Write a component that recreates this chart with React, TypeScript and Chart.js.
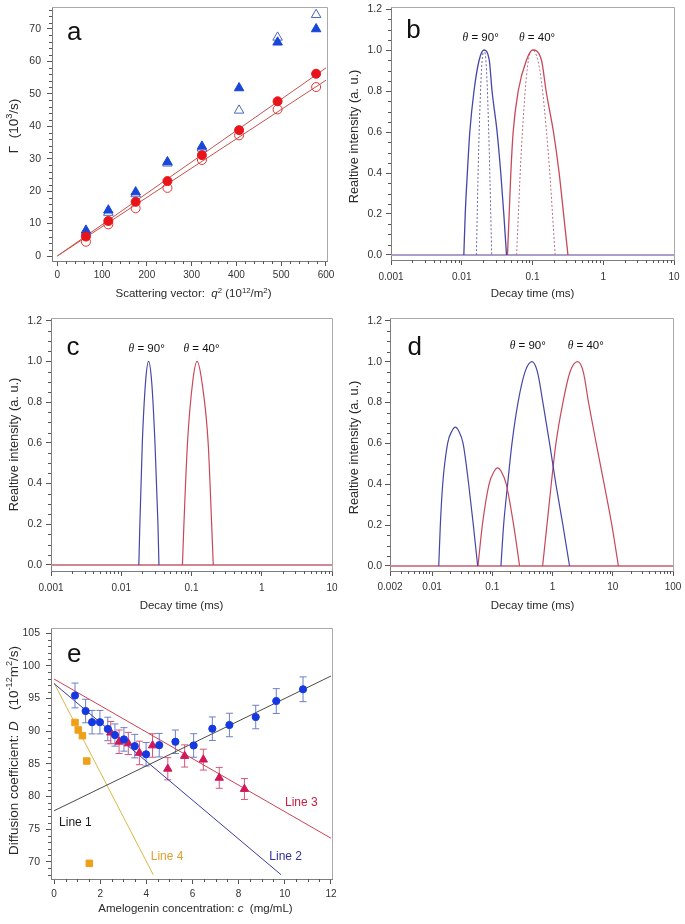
import React, { useEffect, useRef } from 'react';
import { Chart, registerables } from 'chart.js';
Chart.register(...registerables);

// ---------------- Panel a ----------------
const aQ2 = [64, 114, 175, 246, 323, 406, 492, 578];
const aFilledCircle = [6.0, 10.8, 16.7, 23.1, 31.1, 38.8, 47.7, 56.2];
const aOpenCircle = [4.4, 9.75, 14.7, 21.0, 29.6, 37.2, 45.2, 52.1];
const aFilledTriangle = [7.9, 14.1, 19.7, 29.0, 33.8, 51.8, 65.9, 70.0];
const aOpenTriangle = [7.2, 13.4, 19.1, 28.6, 33.2, 44.9, 67.4, 74.4];
const aFitX = [0, 600];
const aFitUpper = [0, 58.0];
const aFitLower = [0, 54.2];
const aXTicks = [0, 100, 200, 300, 400, 500, 600];
const aYTicks = [0, 10, 20, 30, 40, 50, 60, 70];

// ---------------- Panel b ----------------
const bBlueSolidX = [0.0107, 0.0112, 0.012, 0.013, 0.0149, 0.0176, 0.0206, 0.0245, 0.0268, 0.0316, 0.0356, 0.0393, 0.0429];
const bBlueSolidY = [0, 0.2, 0.4, 0.6, 0.8, 0.95, 1.0, 0.95, 0.8, 0.6, 0.4, 0.2, 0];
const bBlueDotX = [0.0161, 0.0173, 0.019, 0.0206, 0.0224, 0.0245, 0.0265];
const bBlueDotY = [0, 0.5, 0.9, 1.0, 0.9, 0.5, 0];
const bRedSolidX = [0.0443, 0.0468, 0.0494, 0.0533, 0.0628, 0.082, 0.1007, 0.134, 0.1556, 0.198, 0.238, 0.275, 0.317];
const bRedSolidY = [0, 0.2, 0.4, 0.6, 0.8, 0.95, 1.0, 0.95, 0.8, 0.6, 0.4, 0.2, 0];
const bRedDotX = [0.0596, 0.0693, 0.0838, 0.099, 0.127, 0.167, 0.209];
const bRedDotY = [0, 0.5, 0.9, 1.0, 0.9, 0.5, 0];
const bBaseX = [0.001, 10];
const bBaseY = [0, 0];
const bXTicks = [0.001, 0.01, 0.1, 1, 10];
const intensityTicks = [0, 0.2, 0.4, 0.6, 0.8, 1.0, 1.2];

// ---------------- Panel c ----------------
const cBlueX = [0.0178, 0.0184, 0.01995, 0.0222, 0.0245, 0.0271, 0.0302, 0.0333, 0.0344];
const cBlueY = [0, 0.2, 0.6, 0.9, 1.0, 0.9, 0.6, 0.2, 0];
const cRedX = [0.0743, 0.078, 0.0877, 0.104, 0.12, 0.1406, 0.1726, 0.1936, 0.204];
const cRedY = [0, 0.2, 0.6, 0.9, 1.0, 0.9, 0.6, 0.2, 0];
const cBaseX = [0.001, 10];
const cBaseY = [0, 0];
const cXTicks = [0.001, 0.01, 0.1, 1, 10];

// ---------------- Panel d ----------------
const dBlue1X = [0.0129, 0.0137, 0.015, 0.0181, 0.0213, 0.0243, 0.0278, 0.0327, 0.0405, 0.0484, 0.0571];
const dBlue1Y = [0, 0.2, 0.4, 0.6, 0.66, 0.68, 0.66, 0.6, 0.4, 0.2, 0];
const dRed1X = [0.0578, 0.0683, 0.0881, 0.1057, 0.1225, 0.1422, 0.1706, 0.226, 0.284];
const dRed1Y = [0, 0.2, 0.4, 0.46, 0.48, 0.46, 0.4, 0.2, 0];
const dBlue2X = [0.139, 0.154, 0.1795, 0.212, 0.267, 0.349, 0.455, 0.561, 0.692, 0.893, 1.138, 1.486, 1.916];
const dBlue2Y = [0, 0.2, 0.4, 0.6, 0.8, 0.95, 1.0, 0.95, 0.8, 0.6, 0.4, 0.2, 0];
const dRed2X = [0.684, 0.807, 0.951, 1.138, 1.486, 1.95, 2.6, 3.24, 3.96, 5.31, 7.2, 9.66, 12.4];
const dRed2Y = [0, 0.2, 0.4, 0.6, 0.8, 0.95, 1.0, 0.95, 0.8, 0.6, 0.4, 0.2, 0];
const dBaseX = [0.002, 100];
const dBaseY = [0, 0];
const dXTicks = [0.002, 0.01, 0.1, 1, 10, 100];

// ---------------- Panel e ----------------
const eBlueConc = [0.91, 1.37, 1.65, 1.99, 2.33, 2.64, 3.03, 3.5, 3.99, 4.56, 5.26, 6.05, 6.86, 7.6, 8.74, 9.63, 10.79];
const eBlueD = [95.47, 93.09, 91.38, 91.38, 90.34, 89.41, 88.74, 87.71, 86.46, 87.86, 88.38, 87.81, 90.38, 90.95, 92.17, 94.62, 96.42];
const eBlueErr = [1.9, 1.8, 1.8, 1.8, 1.8, 1.7, 1.8, 1.8, 1.8, 1.8, 1.8, 1.8, 1.8, 1.8, 1.8, 1.9, 1.9];
const eRedConc = [2.46, 2.82, 3.22, 3.7, 4.27, 4.93, 5.66, 6.47, 7.16, 8.25];
const eRedD = [89.78, 88.38, 88.12, 86.67, 87.81, 84.24, 86.2, 85.64, 82.85, 81.14];
const eRedErr = [1.7, 1.8, 1.7, 1.8, 1.8, 1.7, 1.7, 1.6, 1.6, 1.6];
const eOrangeConc = [0.91, 1.05, 1.23, 1.42, 1.53];
const eOrangeD = [91.33, 90.19, 89.31, 85.43, 69.75];
const eLine1X = [0, 12];
const eLine1Y = [77.8, 98.45];
const eLine2X = [0, 9.84];
const eLine2Y = [97.3, 68.0];
const eLine3X = [0, 12];
const eLine3Y = [98.0, 73.6];
const eLine4X = [0, 4.3];
const eLine4Y = [97.4, 68.0];
const eXTicks = [0, 2, 4, 6, 8, 10, 12];
const eYTicks = [70, 75, 80, 85, 90, 95, 100, 105];

// ---------------- helpers ----------------
const SANS = '"Liberation Sans", Arial, Helvetica, sans-serif';
const SERIF = '"Liberation Serif", "Times New Roman", serif';

const pts = (xs: number[], ys: number[]) => xs.map((x, i) => ({ x, y: ys[i] }));

function steps(a: number, b: number, s: number): number[] {
  const out: number[] = [];
  for (let k = 0; a + k * s <= b + 1e-9; k++) out.push(+(a + k * s).toFixed(6));
  return out;
}
function logMinor(lo: number, hi: number): number[] {
  const out: number[] = [];
  for (let e = -4; e <= 3; e++) {
    for (let m = 2; m <= 9; m++) {
      const v = m * Math.pow(10, e);
      if (v > lo * 1.0001 && v < hi * 0.9999) out.push(v);
    }
  }
  return out;
}

type Seg = { t: string; i?: boolean; sup?: boolean; serif?: boolean };
type Label =
  | { at: 'data'; x: number; y: number; segs: Seg[]; size: number; color: string; align: 'left' | 'center' }
  | { at: 'xtitle'; segs: Seg[]; size: number; dx: number; dy: number; color: string }
  | { at: 'ytitle'; segs: Seg[]; size: number; x: number; dy: number; color: string };

function drawRich(ctx: CanvasRenderingContext2D, segs: Seg[], x: number, y: number, size: number, color: string, align: 'left' | 'center') {
  const fontFor = (s: Seg) => `${s.i ? 'italic ' : ''}${s.sup ? size * 0.68 : size}px ${s.serif ? SERIF : SANS}`;
  let total = 0;
  const widths = segs.map((s) => {
    ctx.font = fontFor(s);
    const w = ctx.measureText(s.t).width;
    total += w;
    return w;
  });
  let cx = align === 'center' ? x - total / 2 : x;
  ctx.fillStyle = color;
  ctx.textBaseline = 'alphabetic';
  ctx.textAlign = 'left';
  segs.forEach((s, k) => {
    ctx.font = fontFor(s);
    ctx.fillText(s.t, cx, s.sup ? y - size * 0.4 : y);
    cx += widths[k];
  });
}

interface ErrSpec { xs: number[]; ys: number[]; err: number[]; color: string }
interface PanelSpec {
  left: number; top: number; width: number; height: number;
  yAxisW: number; xAxisH: number; padTop: number; padRight: number;
  xType: 'linear' | 'logarithmic';
  xMin: number; xMax: number; yMin: number; yMax: number;
  xMajor: number[]; xMinor: number[]; yMajor: number[]; yMinor: number[];
  xFmt: (v: number) => string; yFmt: (v: number) => string;
  xTickPad: number; yTickPad: number;
  datasets: any[];
  labels: Label[];
  errors?: ErrSpec[];
}

const TICK_COLOR = '#555';
const AXIS_COLOR = '#7d7d7d';
const FRAME_COLOR = '#a9a9a9';
const TEXT_COLOR = '#2a2a2a';

function buildChart(canvas: HTMLCanvasElement, s: PanelSpec) {
  const decor = {
    id: 'decor',
    beforeDatasetsDraw(chart: any) {
      const ctx = chart.ctx as CanvasRenderingContext2D;
      const xs = chart.scales.x, ys = chart.scales.y;
      (s.errors || []).forEach((e) => {
        ctx.save();
        ctx.strokeStyle = e.color;
        ctx.lineWidth = 1;
        e.xs.forEach((xv, k) => {
          const px = xs.getPixelForValue(xv);
          const t = ys.getPixelForValue(e.ys[k] + e.err[k]);
          const b = ys.getPixelForValue(e.ys[k] - e.err[k]);
          ctx.beginPath();
          ctx.moveTo(px, t); ctx.lineTo(px, b);
          ctx.moveTo(px - 3.5, t); ctx.lineTo(px + 3.5, t);
          ctx.moveTo(px - 3.5, b); ctx.lineTo(px + 3.5, b);
          ctx.stroke();
        });
        ctx.restore();
      });
    },
    afterDraw(chart: any) {
      const ctx = chart.ctx as CanvasRenderingContext2D;
      const a = chart.chartArea;
      const xs = chart.scales.x, ys = chart.scales.y;
      ctx.save();
      ctx.strokeStyle = FRAME_COLOR;
      ctx.lineWidth = 1;
      ctx.beginPath();
      ctx.moveTo(a.left, a.top + 0.5); ctx.lineTo(a.right + 0.5, a.top + 0.5); ctx.lineTo(a.right + 0.5, a.bottom);
      ctx.stroke();
      ctx.strokeStyle = TICK_COLOR;
      ctx.beginPath();
      s.xMinor.forEach((v) => {
        const px = Math.round(xs.getPixelForValue(v)) + 0.5;
        ctx.moveTo(px, a.bottom); ctx.lineTo(px, a.bottom + 3);
      });
      s.yMinor.forEach((v) => {
        const py = Math.round(ys.getPixelForValue(v)) + 0.5;
        ctx.moveTo(a.left - 3, py); ctx.lineTo(a.left, py);
      });
      ctx.stroke();
      s.labels.forEach((l) => {
        if (l.at === 'data') {
          drawRich(ctx, l.segs, xs.getPixelForValue(l.x), ys.getPixelForValue(l.y), l.size, l.color, l.align);
        } else if (l.at === 'xtitle') {
          drawRich(ctx, l.segs, (a.left + a.right) / 2 + l.dx, a.bottom + l.dy + l.size * 0.36, l.size, l.color, 'center');
        } else {
          ctx.save();
          ctx.translate(l.x, (a.top + a.bottom) / 2 + l.dy);
          ctx.rotate(-Math.PI / 2);
          drawRich(ctx, l.segs, 0, l.size * 0.36, l.size, l.color, 'center');
          ctx.restore();
        }
      });
      ctx.restore();
    },
  };

  return new Chart(canvas, {
    type: 'line',
    data: { datasets: s.datasets },
    options: {
      responsive: false,
      animation: false,
      devicePixelRatio: 1,
      events: [],
      layout: { padding: { left: 0, top: s.padTop, right: s.padRight, bottom: 0 } },
      plugins: { legend: { display: false }, tooltip: { enabled: false } },
      scales: {
        x: {
          type: s.xType,
          position: 'bottom',
          min: s.xMin,
          max: s.xMax,
          afterBuildTicks: (sc: any) => { sc.ticks = s.xMajor.map((v) => ({ value: v })); },
          afterFit: (sc: any) => { sc.height = s.xAxisH; sc.paddingLeft = 0; sc.paddingRight = 0; },
          ticks: {
            autoSkip: false, maxRotation: 0, minRotation: 0, padding: s.xTickPad, color: '#333',
            font: { family: SANS, size: 10 },
            callback: (v: any) => s.xFmt(Number(v)),
          },
          grid: { display: true, drawOnChartArea: false, drawTicks: true, tickLength: 5, color: TICK_COLOR },
          border: { display: true, color: AXIS_COLOR },
          title: { display: false },
        },
        y: {
          type: 'linear',
          position: 'left',
          min: s.yMin,
          max: s.yMax,
          afterBuildTicks: (sc: any) => { sc.ticks = s.yMajor.map((v) => ({ value: v })); },
          afterFit: (sc: any) => { sc.width = s.yAxisW; sc.paddingTop = 0; sc.paddingBottom = 0; },
          ticks: {
            autoSkip: false, padding: s.yTickPad, color: '#333',
            font: { family: SANS, size: 10.5 },
            callback: (v: any) => s.yFmt(Number(v)),
          },
          grid: { display: true, drawOnChartArea: false, drawTicks: true, tickLength: 5, color: TICK_COLOR },
          border: { display: true, color: AXIS_COLOR },
          title: { display: false },
        },
      },
    } as any,
    plugins: [decor],
  });
}

const lineDs = (data: any[], color: string, width = 1, dash: number[] = []) => ({
  data, borderColor: color, borderWidth: width, borderDash: dash, pointRadius: 0,
  fill: false, tension: 0, showLine: true,
});
const curveDs = (data: any[], color: string, width = 1.2, dash: number[] = []) => ({
  data, borderColor: color, borderWidth: width, borderDash: dash, pointRadius: 0,
  fill: false, cubicInterpolationMode: 'monotone', showLine: true,
});
const markDs = (data: any[], style: string, radius: number, fill: string, stroke: string, bw = 1) => ({
  data, showLine: false, pointStyle: style, pointRadius: radius,
  pointBackgroundColor: fill, pointBorderColor: stroke, pointBorderWidth: bw,
  borderColor: stroke, backgroundColor: fill,
});

const BLUE = '#4646a8';
const RED = '#c8485a';
const fmt1 = (v: number) => v.toFixed(1);
const fmtPlain = (v: number) => String(v);
const intensityTitle: Seg[] = [{ t: 'Realtive intensity (a. u.)' }];
const decayTitle: Seg[] = [{ t: 'Decay time (ms)' }];
const theta = (deg: string): Seg[] => [{ t: 'θ', i: true, serif: true }, { t: ' = ' + deg + '°' }];
const minorIntensity = steps(0.05, 1.15, 0.05).filter((v) => Math.abs(v * 5 - Math.round(v * 5)) > 1e-6);

const specA: PanelSpec = {
  left: 0, top: 0, width: 340, height: 300,
  yAxisW: 52, xAxisH: 39, padTop: 7, padRight: 13,
  xType: 'linear', xMin: -11.8, xMax: 602.3, yMin: -1.54, yMax: 76.78,
  xMajor: aXTicks, xMinor: steps(20, 580, 20).filter((v) => v % 100 !== 0),
  yMajor: aYTicks, yMinor: steps(2, 76, 2).filter((v) => v % 10 !== 0),
  xFmt: fmtPlain, yFmt: fmtPlain, xTickPad: 3, yTickPad: 6,
  datasets: [
    markDs(pts(aQ2, aFilledCircle), 'circle', 4.5, '#e8141a', '#e8141a'),
    markDs(pts(aQ2, aOpenCircle), 'circle', 4.5, 'rgba(255,255,255,0)', '#e0352e'),
    markDs(pts(aQ2, aFilledTriangle), 'triangle', 5.5, '#1846d8', '#1846d8'),
    markDs(pts(aQ2, aOpenTriangle), 'triangle', 5.5, 'rgba(255,255,255,0)', '#4a64c0'),
    lineDs(pts(aFitX, aFitUpper), '#c8504a'),
    lineDs(pts(aFitX, aFitLower), '#c8504a'),
  ],
  labels: [
    { at: 'data', x: 21.7, y: 66.6, segs: [{ t: 'a' }], size: 26, color: '#111', align: 'left' },
    { at: 'xtitle', segs: [{ t: 'Scattering vector:  ' }, { t: 'q', i: true }, { t: '2', sup: true }, { t: ' (10' }, { t: '12', sup: true }, { t: '/m' }, { t: '2', sup: true }, { t: ')' }], size: 11.5, dx: 4, dy: 32, color: TEXT_COLOR },
    { at: 'ytitle', segs: [{ t: 'Γ' }, { t: '  (10' }, { t: '3', sup: true }, { t: '/s)' }], size: 13.5, x: 13, dy: -8, color: TEXT_COLOR },
  ],
};

const specB: PanelSpec = {
  left: 340, top: 0, width: 345, height: 300,
  yAxisW: 51, xAxisH: 40, padTop: 7, padRight: 11,
  xType: 'logarithmic', xMin: 0.001, xMax: 10, yMin: -0.0244, yMax: 1.2098,
  xMajor: bXTicks, xMinor: logMinor(0.001, 10),
  yMajor: intensityTicks, yMinor: minorIntensity,
  xFmt: fmtPlain, yFmt: fmt1, xTickPad: 6, yTickPad: 4,
  datasets: [
    curveDs(pts(bBlueSolidX, bBlueSolidY), BLUE, 1.3),
    curveDs(pts(bRedSolidX, bRedSolidY), RED, 1.3),
    curveDs(pts(bBlueDotX, bBlueDotY), '#6a6aa8', 1, [2, 2]),
    curveDs(pts(bRedDotX, bRedDotY), '#b87080', 1, [2, 2]),
    lineDs(pts(bBaseX, bBaseY), '#9a9ad4', 1.6),
    lineDs(pts(bBaseX, bBaseY), '#e08a8a', 1.6),
  ],
  labels: [
    { at: 'data', x: 0.00164, y: 1.059, segs: [{ t: 'b' }], size: 26, color: '#111', align: 'left' },
    { at: 'data', x: 0.0185, y: 1.045, segs: theta('90'), size: 11.5, color: '#111', align: 'center' },
    { at: 'data', x: 0.116, y: 1.045, segs: theta('40'), size: 11.5, color: '#111', align: 'center' },
    { at: 'xtitle', segs: decayTitle, size: 11.5, dx: 0, dy: 33, color: TEXT_COLOR },
    { at: 'ytitle', segs: intensityTitle, size: 12.8, x: 13, dy: 3, color: TEXT_COLOR },
  ],
};

const specC: PanelSpec = {
  left: 0, top: 300, width: 340, height: 315,
  yAxisW: 51, xAxisH: 44, padTop: 18, padRight: 8,
  xType: 'logarithmic', xMin: 0.001, xMax: 10, yMin: -0.0295, yMax: 1.213,
  xMajor: cXTicks, xMinor: logMinor(0.001, 10),
  yMajor: intensityTicks, yMinor: minorIntensity,
  xFmt: fmtPlain, yFmt: fmt1, xTickPad: 6, yTickPad: 4,
  datasets: [
    curveDs(pts(cBlueX, cBlueY), BLUE, 1.2),
    curveDs(pts(cRedX, cRedY), RED, 1.2),
    lineDs(pts(cBaseX, cBaseY), '#e07a7a', 1.6),
    lineDs(pts(cBaseX, cBaseY), '#8a8ad0', 1.6),
  ],
  labels: [
    { at: 'data', x: 0.00166, y: 1.031, segs: [{ t: 'c' }], size: 26, color: '#111', align: 'left' },
    { at: 'data', x: 0.023, y: 1.045, segs: theta('90'), size: 11.5, color: '#111', align: 'center' },
    { at: 'data', x: 0.139, y: 1.045, segs: theta('40'), size: 11.5, color: '#111', align: 'center' },
    { at: 'xtitle', segs: decayTitle, size: 11.5, dx: -10, dy: 34, color: TEXT_COLOR },
    { at: 'ytitle', segs: intensityTitle, size: 12.8, x: 13, dy: 0, color: TEXT_COLOR },
  ],
};

const specD: PanelSpec = {
  left: 340, top: 300, width: 345, height: 315,
  yAxisW: 50, xAxisH: 44, padTop: 18, padRight: 12,
  xType: 'logarithmic', xMin: 0.002, xMax: 100, yMin: -0.0245, yMax: 1.214,
  xMajor: dXTicks, xMinor: logMinor(0.002, 100),
  yMajor: intensityTicks, yMinor: minorIntensity,
  xFmt: fmtPlain, yFmt: fmt1, xTickPad: 5, yTickPad: 3,
  datasets: [
    curveDs(pts(dBlue1X, dBlue1Y), BLUE, 1.2),
    curveDs(pts(dRed1X, dRed1Y), RED, 1.2),
    curveDs(pts(dBlue2X, dBlue2Y), BLUE, 1.2),
    curveDs(pts(dRed2X, dRed2Y), RED, 1.2),
    lineDs(pts(dBaseX, dBaseY), '#e07a7a', 1.6),
    lineDs(pts(dBaseX, dBaseY), '#8a8ad0', 1.6),
  ],
  labels: [
    { at: 'data', x: 0.00389, y: 1.033, segs: [{ t: 'd' }], size: 26, color: '#111', align: 'left' },
    { at: 'data', x: 0.388, y: 1.061, segs: theta('90'), size: 11.5, color: '#111', align: 'center' },
    { at: 'data', x: 3.56, y: 1.061, segs: theta('40'), size: 11.5, color: '#111', align: 'center' },
    { at: 'xtitle', segs: decayTitle, size: 11.5, dx: 1, dy: 34, color: TEXT_COLOR },
    { at: 'ytitle', segs: intensityTitle, size: 12.8, x: 13, dy: 3, color: TEXT_COLOR },
  ],
};

const specE: PanelSpec = {
  left: 0, top: 615, width: 345, height: 309,
  yAxisW: 51, xAxisH: 45, padTop: 13, padRight: 13,
  xType: 'linear', xMin: -0.13, xMax: 12.045, yMin: 67.35, yMax: 105.81,
  xMajor: eXTicks, xMinor: steps(0.5, 11.5, 0.5).filter((v) => v % 2 !== 0),
  yMajor: eYTicks, yMinor: steps(68, 105, 1).filter((v) => v % 5 !== 0),
  xFmt: fmtPlain, yFmt: fmtPlain, xTickPad: 4, yTickPad: 6,
  datasets: [
    markDs(pts(eBlueConc, eBlueD), 'circle', 3.6, '#1538e0', '#1538e0'),
    markDs(pts(eRedConc, eRedD), 'triangle', 4.8, '#d0185a', '#d0185a'),
    markDs(pts(eOrangeConc, eOrangeD), 'rect', 4.6, '#f0a018', '#f0a018'),
    lineDs(pts(eLine1X, eLine1Y), '#4a4a4a'),
    lineDs(pts(eLine2X, eLine2Y), '#3c3ca0'),
    lineDs(pts(eLine3X, eLine3Y), '#d04050'),
    lineDs(pts(eLine4X, eLine4Y), '#d8b848'),
  ],
  errors: [
    { xs: eBlueConc, ys: eBlueD, err: eBlueErr, color: '#6f7fc4' },
    { xs: eRedConc, ys: eRedD, err: eRedErr, color: '#d4567c' },
  ],
  labels: [
    { at: 'data', x: 0.56, y: 100.6, segs: [{ t: 'e' }], size: 26, color: '#111', align: 'left' },
    { at: 'data', x: 0.22, y: 75.5, segs: [{ t: 'Line 1' }], size: 12, color: '#1a1a1a', align: 'left' },
    { at: 'data', x: 4.19, y: 70.26, segs: [{ t: 'Line 4' }], size: 12, color: '#e0a030', align: 'left' },
    { at: 'data', x: 9.33, y: 70.26, segs: [{ t: 'Line 2' }], size: 12, color: '#3030a0', align: 'left' },
    { at: 'data', x: 10.01, y: 78.46, segs: [{ t: 'Line 3' }], size: 12, color: '#c82040', align: 'left' },
    { at: 'xtitle', segs: [{ t: 'Amelogenin concentration: ' }, { t: 'c', i: true }, { t: '  (mg/mL)' }], size: 11.5, dx: 4, dy: 29, color: TEXT_COLOR },
    { at: 'ytitle', segs: [{ t: 'Diffusion coefficient: ' }, { t: 'D', i: true }, { t: '   (10' }, { t: '-12', sup: true }, { t: 'm' }, { t: '2', sup: true }, { t: '/s)' }], size: 13.5, x: 13, dy: -3, color: TEXT_COLOR },
  ],
};

function Panel({ spec }: { spec: PanelSpec }) {
  const ref = useRef<HTMLCanvasElement>(null);
  useEffect(() => {
    if (!ref.current) return;
    const chart = buildChart(ref.current, spec);
    return () => chart.destroy();
  }, [spec]);
  return (
    <canvas
      ref={ref}
      width={spec.width}
      height={spec.height}
      style={{ position: 'absolute', left: spec.left, top: spec.top, width: spec.width, height: spec.height }}
    />
  );
}

export default function App() {
  return (
    <div style={{ position: 'fixed', left: 0, top: 0, width: 685, height: 924, background: '#ffffff', overflow: 'hidden' }}>
      <Panel spec={specA} />
      <Panel spec={specB} />
      <Panel spec={specC} />
      <Panel spec={specD} />
      <Panel spec={specE} />
    </div>
  );
}
